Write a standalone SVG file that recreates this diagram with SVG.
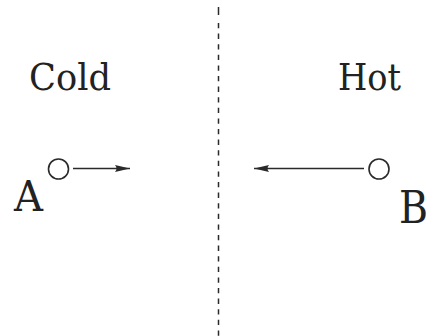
<svg xmlns="http://www.w3.org/2000/svg" width="432" height="336" viewBox="0 0 432 336">
<style>
text{font-family:'DejaVu Serif','Liberation Serif',serif;fill:#222222}
.pt{fill:none;stroke:#2a2a2a;stroke-width:1.6}
.arr{stroke:#2a2a2a;stroke-width:1.7;fill:none;marker-end:url(#ah)}
.div{stroke:#2a2a2a;stroke-width:1.5}
</style>
<defs>
<marker id="ah" markerUnits="userSpaceOnUse" markerWidth="16" markerHeight="10" viewBox="0 0 16 10" refX="15" refY="5" orient="auto">
<path d="M0,1.5 Q3,5 0,8.5 L15,5 Z" fill="#2a2a2a"/>
</marker>
</defs>
<rect width="432" height="336" fill="#ffffff"/>
<g id="divider">
<line class="div" x1="218.5" y1="7" x2="218.5" y2="15"/>
<line class="div" x1="218.5" y1="23" x2="218.5" y2="336" stroke-dasharray="5.3 5.3"/>
</g>
<text id="cold" x="29" y="90" font-size="38" textLength="82" lengthAdjust="spacingAndGlyphs">Cold</text>
<text id="hot" x="338" y="90" font-size="38" textLength="63" lengthAdjust="spacingAndGlyphs">Hot</text>
<g id="nodeA">
<circle class="pt" cx="58.5" cy="169" r="10"/>
<text x="14" y="211" font-size="43" textLength="29" lengthAdjust="spacingAndGlyphs">A</text>
</g>
<g id="nodeB">
<circle class="pt" cx="379" cy="169" r="10"/>
<text x="399" y="223" font-size="45" textLength="29" lengthAdjust="spacingAndGlyphs">B</text>
</g>
<g id="connectors">
<line class="arr" x1="73" y1="168.5" x2="130" y2="168.5"/>
<line class="arr" x1="364" y1="168.5" x2="254" y2="168.5"/>
</g>
</svg>
